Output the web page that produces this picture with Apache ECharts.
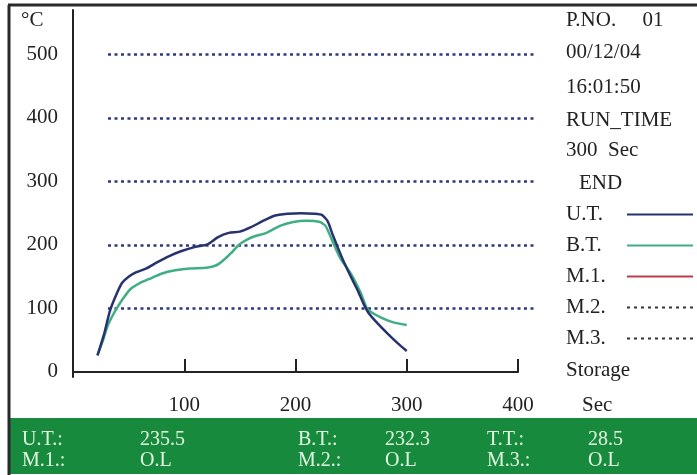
<!DOCTYPE html>
<html><head><meta charset="utf-8">
<script src="https://cdn.jsdelivr.net/npm/echarts@6/dist/echarts.min.js"></script>
<style>html,body{margin:0;padding:0;background:#fff}#c{width:697px;height:475px}</style>
</head><body><div id="c"></div>
<script>
// Time (Sec) / temperature (°C) samples
var utData = [[22,26],[28,60],[33,95],[38,118],[44,140],[50,150],[57,157],[66,163],[75,172],[86,182],[97,190],[110,197],[121,201],[130,212],[140,219],[150,221],[160,228],[170,237],[181,246],[193,249],[205,250],[217,249],[224,247],[229,237],[233,218],[238,196],[243,175],[250,149],[256,128],[261,108],[266,92],[274,76],[283,60],[292,45],[300,33]];
var btData = [[22,26],[27,50],[31,72],[36,90],[40,102],[46,118],[52,131],[60,140],[68,146],[80,155],[92,160],[105,163],[120,164],[129,168],[136,177],[142,187],[149,200],[156,208],[164,214],[174,219],[186,230],[198,236],[210,238],[222,236],[227,230],[232,211],[240,180],[250,154],[259,123],[264,101],[270,92],[279,84],[288,78],[300,74]];
var seriesNames = ['U.T.','B.T.','M.1.','M.2.','M.3.'];
var xTicks = [0,100,200,300,400];
var yTicks = [0,100,200,300,400,500];
var infoLines = ['P.NO.     01','00/12/04','16:01:50','RUN_TIME','300  Sec'];
var statusRow1 = ['U.T.:','235.5','B.T.:','232.3','T.T.:','28.5'];
var statusRow2 = ['M.1.:','O.L','M.2.:','O.L','M.3.:','O.L'];

var FONT = 'Liberation Serif';
var TXT = '#222';
var FS = 21;
var chart = echarts.init(document.getElementById('c'), null, {renderer:'canvas'});

var graphics = [];
graphics.push({type:'rect', z:-1, shape:{x:10,y:418,width:690,height:56}, style:{fill:'#178a3e'}});
graphics.push({type:'line', shape:{x1:8,y1:5,x2:697,y2:5}, style:{stroke:'#2a2a2a',lineWidth:3}});
graphics.push({type:'line', shape:{x1:9,y1:5,x2:9,y2:475}, style:{stroke:'#2a2a2a',lineWidth:3}});
graphics.push({type:'text', x:21, y:20, style:{text:'°C', font:FS+'px "'+FONT+'"', fill:TXT, verticalAlign:'middle'}});
var infoY = [20,52,87,120,150];
infoLines.forEach(function(t,i){
  graphics.push({type:'text', x:566, y:infoY[i], style:{text:t, font:FS+'px "'+FONT+'"', fill:TXT, verticalAlign:'middle'}});
});
graphics.push({type:'text', x:579, y:183, style:{text:'END', font:FS+'px "'+FONT+'"', fill:TXT, verticalAlign:'middle'}});
graphics.push({type:'text', x:566, y:370, style:{text:'Storage', font:FS+'px "'+FONT+'"', fill:TXT, verticalAlign:'middle'}});
graphics.push({type:'text', x:582, y:405, style:{text:'Sec', font:FS+'px "'+FONT+'"', fill:TXT, verticalAlign:'middle'}});
var colX = [22,140,298,385,487,588];
statusRow1.forEach(function(t,i){
  graphics.push({type:'text', x:colX[i], y:440, style:{text:t, font:'20px "'+FONT+'"', fill:'#e2f7e2', verticalAlign:'middle'}});
});
statusRow2.forEach(function(t,i){
  graphics.push({type:'text', x:colX[i], y:461, style:{text:t, font:'20px "'+FONT+'"', fill:'#e2f7e2', verticalAlign:'middle'}});
});

var colors = ['#27336e','#3fae82','#b9404a','#333','#333'];
var series = [
  {name:seriesNames[0], type:'line', data:utData, symbol:'none', smooth:0.2, xAxisIndex:0, yAxisIndex:0,
   lineStyle:{color:colors[0], width:2.5}, itemStyle:{color:colors[0]}, z:4},
  {name:seriesNames[1], type:'line', data:btData, symbol:'none', smooth:0.2, xAxisIndex:0, yAxisIndex:0,
   lineStyle:{color:colors[1], width:2.5}, itemStyle:{color:colors[1]}, z:3},
  {name:seriesNames[2], type:'line', data:[], symbol:'none', xAxisIndex:0, yAxisIndex:0,
   lineStyle:{color:colors[2], width:2.5}, itemStyle:{color:colors[2]}},
  {name:seriesNames[3], type:'line', data:[], symbol:'none', xAxisIndex:0, yAxisIndex:0,
   lineStyle:{color:colors[3], width:2.5, type:[3,4]}, itemStyle:{color:colors[3]}},
  {name:seriesNames[4], type:'line', data:[], symbol:'none', xAxisIndex:0, yAxisIndex:0,
   lineStyle:{color:colors[4], width:2.5, type:[3,4]}, itemStyle:{color:colors[4]}}
];

chart.setOption({
  animation:false,
  backgroundColor:'#fff',
  textStyle:{fontFamily:FONT},
  grid:[
    {left:73, top:10, width:445, height:367, containLabel:false},
    {left:108, top:54.4, width:429, height:317.5, containLabel:false}
  ],
  xAxis:[
    {gridIndex:0, type:'value', min:xTicks[0], max:xTicks[xTicks.length-1], interval:100,
     axisLine:{show:true, lineStyle:{color:'#222', width:2}},
     axisTick:{show:true, inside:true, length:13, lineStyle:{color:'#222', width:2}},
     axisLabel:{margin:18, color:TXT, fontSize:FS, fontFamily:FONT,
       formatter:function(v){return v===0?'':String(v);}},
     splitLine:{show:false}},
    {gridIndex:1, type:'value', min:0, max:1, show:false}
  ],
  yAxis:[
    {gridIndex:0, type:'value', min:-8, max:570,
     axisLine:{show:true, onZero:false, lineStyle:{color:'#222', width:2}},
     axisTick:{show:false}, axisLabel:{show:false}, splitLine:{show:false}},
    {gridIndex:1, type:'value', min:yTicks[0], max:yTicks[yTicks.length-1], interval:100,
     axisLine:{show:false}, axisTick:{show:false},
     axisLabel:{show:true, margin:50, color:TXT, fontSize:FS, fontFamily:FONT},
     splitLine:{show:true, showMinLine:false, lineStyle:{color:'#2c3a7c', width:2.5, type:[3,3.5]}}}
  ],
  legend:{
    data:seriesNames, orient:'vertical', left:566, top:204, align:'right', padding:0,
    itemWidth:66, itemHeight:18, itemGap:10,
    itemStyle:{opacity:0},
    formatter:function(n){return '{a|'+n+'}';},
    textStyle:{fontFamily:FONT, fontSize:FS, color:TXT,
      rich:{a:{width:56, align:'left', fontFamily:FONT, fontSize:FS, color:TXT}}},
    selectedMode:false
  },
  series:series,
  graphic:graphics
});
</script></body></html>
